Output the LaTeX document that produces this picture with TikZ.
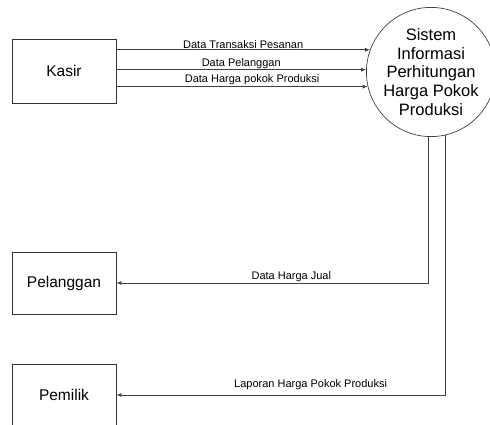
\documentclass[tikz,border=0pt]{standalone}
\usepackage{fontspec}
\setmainfont{Liberation Sans}
\usetikzlibrary{arrows.meta}
\begin{document}
\begin{tikzpicture}[x=1pt,y=-1pt,
  ent/.style={draw=black!80, line width=0.8pt, minimum width=104pt, inner sep=0pt, font=\fontsize{15.5}{18}\selectfont},
  proc/.style={circle, draw=black!75, line width=0.7pt, minimum size=120pt, inner sep=0pt, align=center, font=\fontsize{16.5}{18.7}\selectfont},
  flow/.style={draw=black!75, line width=0.8pt, -{Latex[length=5pt,width=4pt]}},
  lbl/.style={font=\fontsize{11}{12}\selectfont, inner sep=1pt}]
\useasboundingbox (0,0) rectangle (490,425);
\node[ent, minimum height=64pt] (kasir) at (64,71) {Kasir};
\node[ent, minimum height=62pt] (pel) at (64,283) {Pelanggan};
\node[ent, minimum height=62pt] (pem) at (64,395) {Pemilik};
\node[proc] (sys) at (431,72) {Sistem\\Informasi\\Perhitungan\\Harga Pokok\\Produksi};
\draw[flow] (kasir.east |- sys.160.5) -- node[lbl, above] {Data Transaksi Pesanan} (sys.160.5);
\draw[flow] (kasir.east |- sys.178.1) -- node[lbl, above] {Data Pelanggan} (sys.178.1);
\draw[flow] (kasir.east |- sys.193.5) -- node[lbl, above, pos=0.54] {Data Harga pokok Produksi} (sys.193.5);
\draw[flow] (sys.268.1) |- node[lbl, above, pos=0.72] {Data Harga Jual} (pel.east);
\draw[flow] (sys.283.5) |- node[lbl, above, pos=0.705, yshift=4pt] {Laporan Harga Pokok Produksi} (pem.east);
\end{tikzpicture}
\end{document}
